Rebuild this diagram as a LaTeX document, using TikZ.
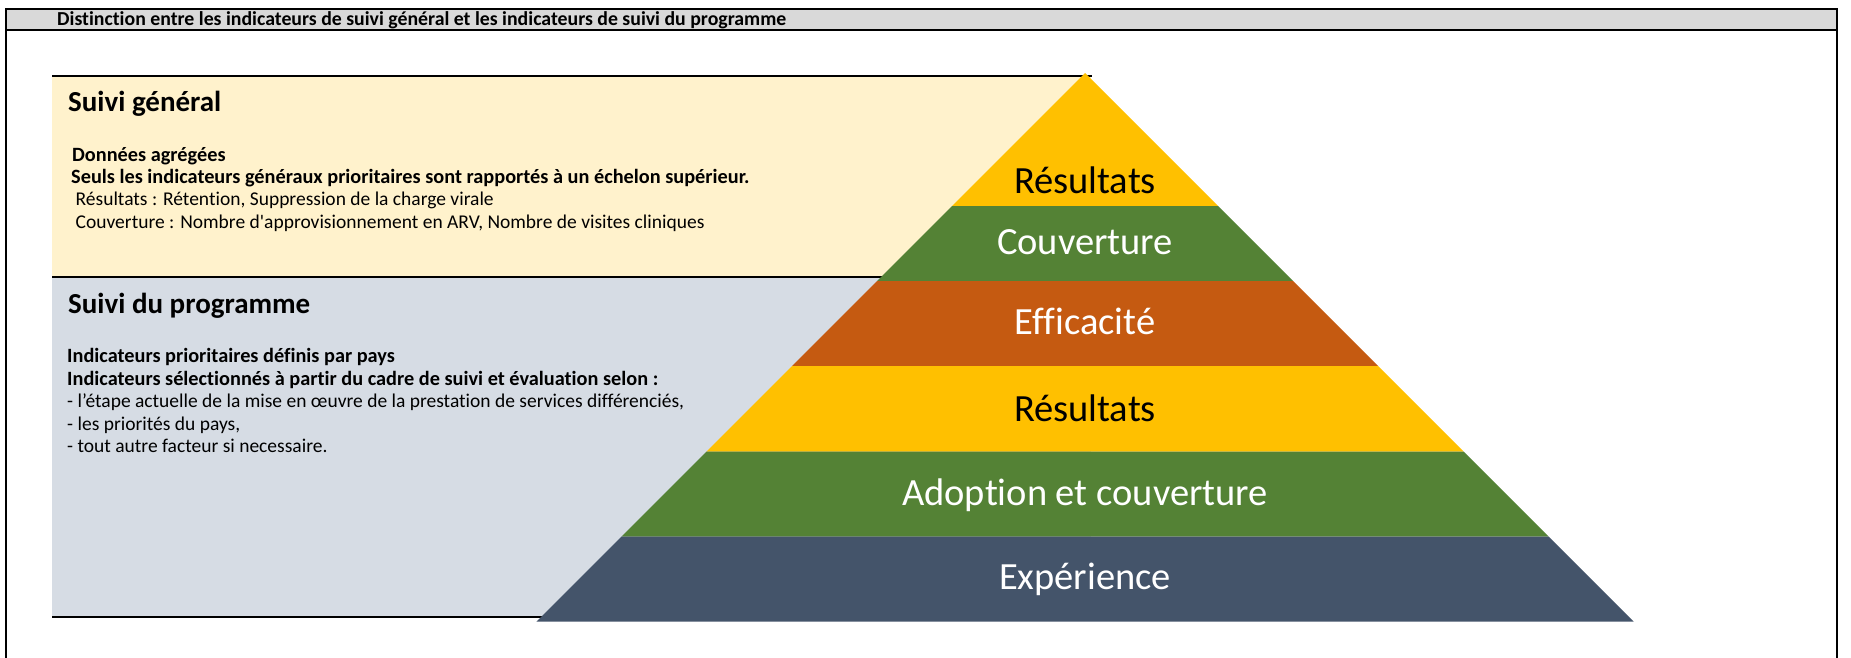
\documentclass[tikz,border=0pt]{standalone}
\usepackage{fontspec}
\setmainfont[Ligatures=NoCommon]{Carlito}
\definecolor{barfill}{HTML}{D9D9D9}
\definecolor{paleyellow}{HTML}{FFF2CC}
\definecolor{palegrey}{HTML}{D6DCE4}
\definecolor{gold}{HTML}{FFC000}
\definecolor{leaf}{HTML}{548235}
\definecolor{rust}{HTML}{C55A11}
\definecolor{slate}{HTML}{44546A}
\begin{document}
\begin{tikzpicture}[x=1pt,y=-1pt,
  rule/.style={line width=2.4pt},
  framerule/.style={line width=2pt},
  txt/.style={anchor=base west,inner sep=0pt,font=\fontsize{19.5}{23}\selectfont},
  txtb/.style={txt,font=\fontsize{20.3}{24}\selectfont\bfseries},
  head/.style={anchor=base west,inner sep=0pt,font=\fontsize{29}{34}\selectfont\bfseries},
  level/.style={inner sep=0pt,font=\fontsize{38.5}{44}\selectfont,text=white}]
\useasboundingbox (0,0) rectangle (1851,658);
\fill[white] (0,0) rectangle (1851,658);

% title bar and outer frame
\fill[barfill] (5.5,9) rectangle (1837,30);
\draw[framerule] (5.5,658) -- (5.5,9) -- (1837,9) -- (1837,658);
\draw[framerule] (5.5,30) -- (1837,30);
\node[anchor=base west,inner sep=0pt,font=\fontsize{19.8}{22}\selectfont\bfseries] (title) at (57,25.5)
  {Distinction entre les indicateurs de suivi général et les indicateurs de suivi du programme};

% background panels
\fill[paleyellow] (52,76) rectangle (1091,277);
\fill[palegrey] (52,277) rectangle (1091,616.7);
\draw[rule] (52,76) -- (1092,76);
\draw[rule] (52,277) -- (1091,277);
\draw[rule] (52,616.7) -- (560,616.7);

% panel texts
\node[head] (sg) at (68,111.5) {Suivi général};
\node[txtb] (sg1) at (72,161) {Données agrégées};
\node[txtb] (sg2) at (71,183) {Seuls les indicateurs généraux prioritaires sont rapportés à un échelon supérieur.};
\node[txt] (sg3) at (75.5,205.5) {Résultats : Rétention, Suppression de la charge virale};
\node[txt] (sg4) at (75.5,228) {Couverture : Nombre d\textquotesingle approvisionnement en ARV, Nombre de visites cliniques};

\node[head] (sp) at (68,313.5) {Suivi du programme};
\node[txtb] (sp1) at (67,362.5) {Indicateurs prioritaires définis par pays};
\node[txtb] (sp2) at (67,385) {Indicateurs sélectionnés à partir du cadre de suivi et évaluation selon :};
\node[txt] (sp3) at (67,407) {- l’étape actuelle de la mise en œuvre de la prestation de services différenciés,};
\node[txt] (sp4) at (67,430) {- les priorités du pays,};
\node[txt] (sp5) at (67,452) {- tout autre facteur si necessaire.};

% pyramid: apex (1085,73), sides at 45 degrees
\def\cx{1085}
\def\ay{73}
\newcommand{\band}[3]{%
  \fill[#1] ({\cx-(#2-\ay)},#2) -- ({\cx+(#2-\ay)},#2) -- ({\cx+(#3-\ay)},#3) -- ({\cx-(#3-\ay)},#3) -- cycle;}
\fill[gold] (\cx,\ay) -- ({\cx+133},206) -- ({\cx-133},206) -- cycle;
\band{leaf}{206}{281}
\band{rust}{281}{366}
\band{gold}{366}{451.7}
\band{leaf}{451.7}{536.7}
\band{slate}{536.7}{621.7}

\node[level,text=black] (l1) at (\cx,180.6) {Résultats};
\node[level] (l2) at (\cx,242) {Couverture};
\node[level] (l3) at (\cx,321) {Efficacité};
\node[level,text=black] (l4) at (\cx,408) {Résultats};
\node[level] (l5) at (\cx,495.5) {Adoption et couverture};
\node[level] (l6) at (\cx,579.5) {Expérience};
\end{tikzpicture}
\end{document}
